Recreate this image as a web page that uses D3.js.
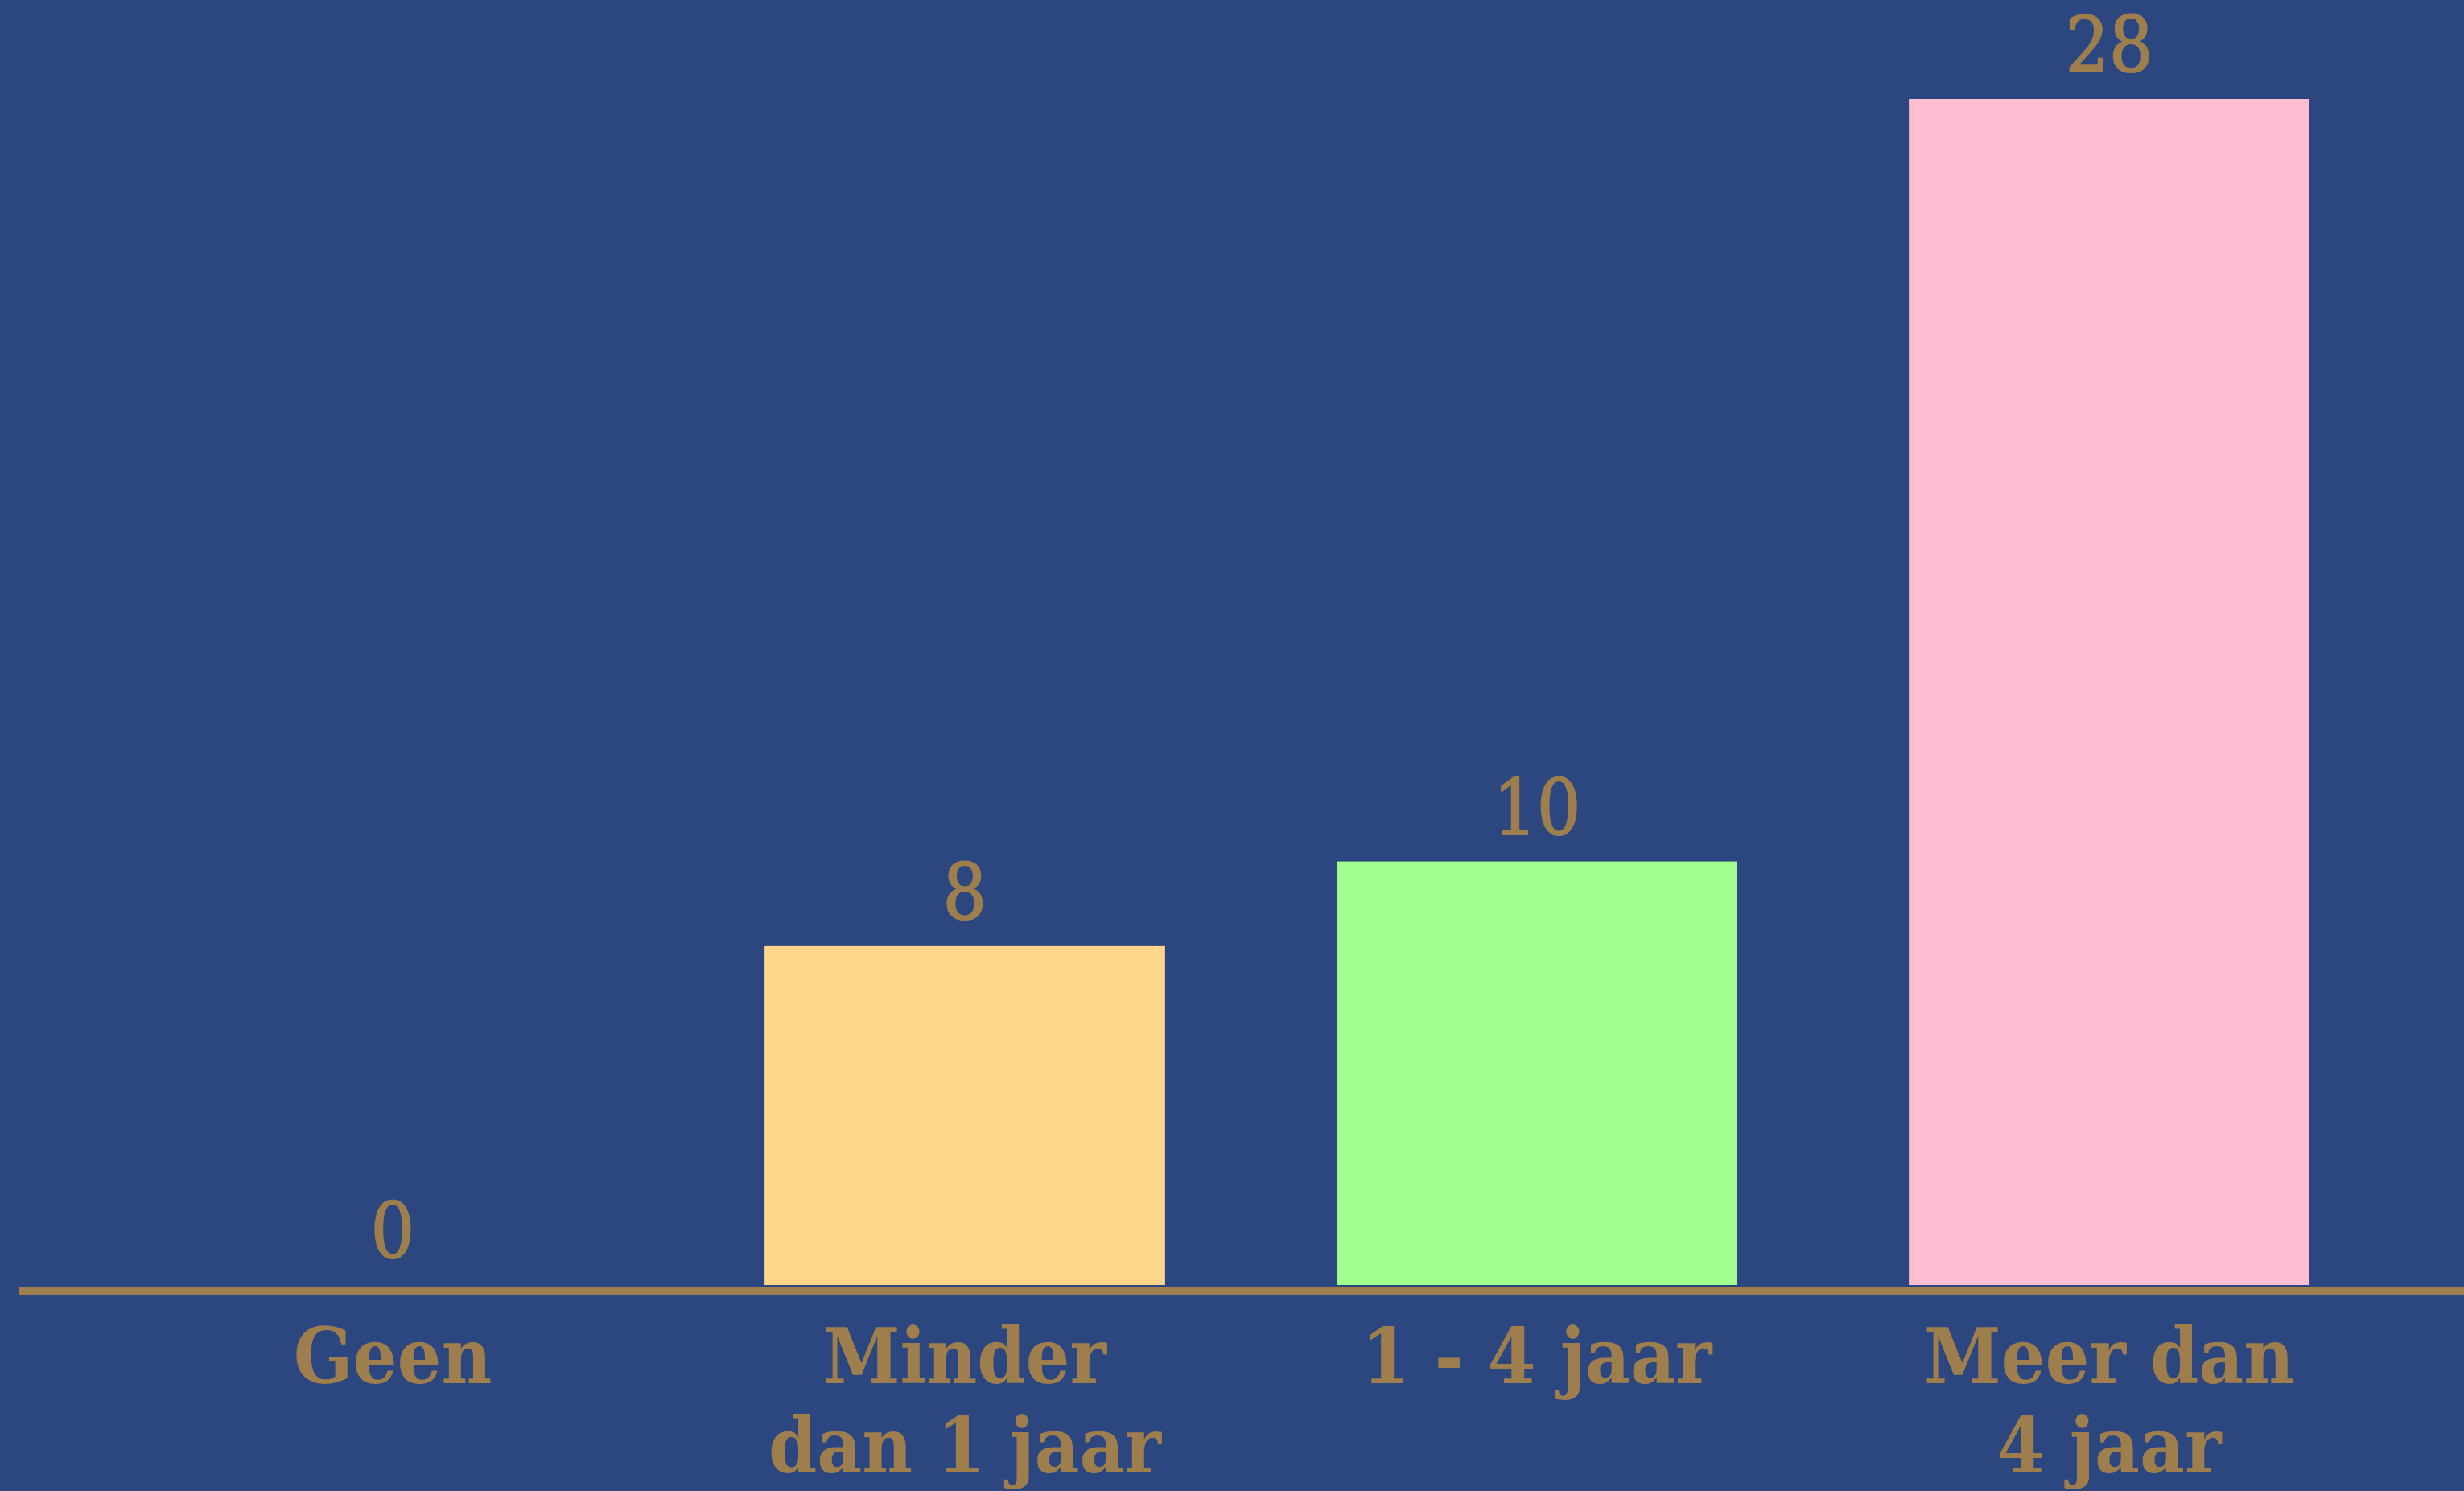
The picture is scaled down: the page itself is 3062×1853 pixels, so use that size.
<!DOCTYPE html>
<html>
<head>
<meta charset="utf-8">
<script src="https://cdn.jsdelivr.net/npm/d3@7/dist/d3.min.js"></script>
<style>
  html, body { margin: 0; padding: 0; background: #2C4680; overflow: hidden; }
  svg { display: block; }
</style>
</head>
<body>
<script>
const categories = ["Geen", "Minder dan 1 jaar", "1 - 4 jaar", "Meer dan 4 jaar"];
const categoryLines = [["Geen"], ["Minder", "dan 1 jaar"], ["1 - 4 jaar"], ["Meer dan", "4 jaar"]];
const values = [0, 8, 10, 28];
const barColors = ["#FFD68A", "#FFD68A", "#A1FF8F", "#FFBDD1"];

const W = 3062, H = 1853;
const bg = "#2C4680", gold = "#9E7E4C";

const svg = d3.select("body").append("svg").attr("width", W).attr("height", H);
svg.append("rect").attr("width", W).attr("height", H).attr("fill", bg);

const x = d3.scaleBand().domain(categories).range([132.5, 2976.5]).paddingInner(0.3).paddingOuter(0.15);
const y = d3.scaleLinear().domain([0, 28]).range([1597, 123]);

svg.selectAll("rect.bar").data(values).enter().append("rect")
  .attr("class", "bar")
  .attr("x", (d, i) => x(categories[i]))
  .attr("width", x.bandwidth())
  .attr("y", d => y(d))
  .attr("height", d => y(0) - y(d))
  .attr("fill", (d, i) => barColors[i]);

// baseline axis
svg.append("line")
  .attr("x1", 23).attr("x2", W)
  .attr("y1", y(0) + 8).attr("y2", y(0) + 8)
  .attr("stroke", gold).attr("stroke-width", 10);

// value labels
svg.selectAll("text.val").data(values).enter().append("text")
  .attr("class", "val")
  .attr("x", (d, i) => x(categories[i]) + x.bandwidth() / 2)
  .attr("y", d => y(d) - 34)
  .attr("text-anchor", "middle")
  .attr("fill", gold)
  .attr("stroke", gold)
  .attr("stroke-width", 2)
  .attr("font-family", "'DejaVu Serif Condensed', 'DejaVu Serif', serif")
  .attr("font-stretch", "condensed")
  .attr("font-weight", "normal")
  .attr("font-size", 95)
  .text(d => d);

// category labels
const lab = svg.selectAll("text.cat").data(categoryLines).enter().append("text")
  .attr("class", "cat")
  .attr("x", (d, i) => x(categories[i]) + x.bandwidth() / 2)
  .attr("y", 1719)
  .attr("text-anchor", "middle")
  .attr("fill", gold)
  .attr("font-family", "'DejaVu Serif Condensed', 'DejaVu Serif', serif")
  .attr("font-stretch", "condensed")
  .attr("font-weight", "bold")
  .attr("font-size", 96);
lab.each(function(lines, i) {
  const t = d3.select(this);
  const cx = x(categories[i]) + x.bandwidth() / 2;
  lines.forEach((ln, j) => {
    t.append("tspan").attr("x", cx).attr("dy", j === 0 ? 0 : 111).text(ln);
  });
});
</script>
</body>
</html>
